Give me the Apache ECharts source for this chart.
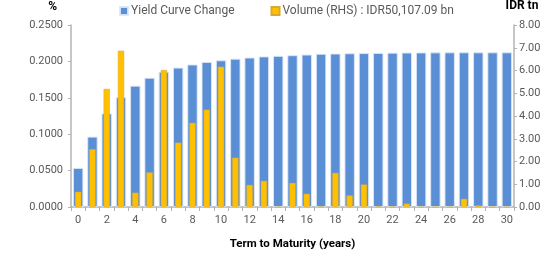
<!DOCTYPE html>
<html>
<head>
<meta charset="utf-8">
<script src="https://cdn.jsdelivr.net/npm/echarts@6/dist/echarts.min.js"></script>
<style>
html,body{margin:0;padding:0;background:#fff;}
#chart{width:557px;height:255px;}
</style>
</head>
<body>
<div id="chart"></div>
<script>
var categories = ['0','1','2','3','4','5','6','7','8','9','10','11','12','13','14','15','16','17','18','19','20','21','22','23','24','25','26','27','28','29','30'];
var yieldChange = [0.0537,0.0967,0.1286,0.1508,0.1667,0.1776,0.1858,0.1915,0.1958,0.1993,0.2015,0.2038,0.2053,0.2069,0.2076,0.2085,0.2094,0.2105,0.2108,0.2112,0.2114,0.2117,0.2120,0.2122,0.2123,0.2124,0.2125,0.2125,0.2125,0.2125,0.2125];
var volume = [0.67,2.54,5.19,6.87,0.63,1.52,6.02,2.83,3.70,4.28,6.17,2.17,0.97,1.15,0,1.06,0.58,0.02,1.50,0.51,0.99,0.02,0.01,0.15,0,0,0,0.36,0.07,0,0];
var leftTicks = {min:0, max:0.25, interval:0.05};
var rightTicks = {min:0, max:8, interval:1};
var seriesNames = ['Yield Curve Change', 'Volume (RHS) : IDR50,107.09 bn'];

var chart = echarts.init(document.getElementById('chart'), null, {renderer:'canvas'});
var labelColor = '#595959';
var axisColor = '#b3b3b3';
var font = 'Roboto, "Liberation Sans", sans-serif';
chart.setOption({
  animation:false,
  textStyle:{fontFamily:font},
  legend:{
    top:0, left:114, itemWidth:8, itemHeight:8, itemGap:36,
    icon:'rect',
    textStyle:{color:labelColor, fontSize:12, fontFamily:font, padding:[0,0,0,-2]},
    data:seriesNames
  },
  grid:{left:71, right:43, top:24, bottom:47, containLabel:false},
  xAxis:[{
    type:'category', data:categories,
    name:'Term to Maturity (years)', nameLocation:'middle', nameGap:31,
    nameTextStyle:{color:'#000', fontWeight:'bold', fontSize:11.5, fontFamily:font},
    axisLine:{lineStyle:{color:axisColor, width:1.5}},
    axisTick:{show:true, interval:0, length:4, lineStyle:{color:axisColor}},
    axisLabel:{interval:1, color:labelColor, fontSize:11, margin:8}
  },{
    type:'category', data:categories, show:false
  }],
  yAxis:[{
    type:'value', min:leftTicks.min, max:leftTicks.max, interval:leftTicks.interval,
    name:'%', nameLocation:'end', nameGap:12,
    nameTextStyle:{color:'#000', fontWeight:'bold', fontSize:12, align:'right', padding:[0,14,0,0]},
    axisLine:{show:true, lineStyle:{color:axisColor, width:1.5}},
    axisTick:{show:true, length:3, lineStyle:{color:axisColor}},
    splitLine:{show:false},
    axisLabel:{color:labelColor, fontSize:11, margin:8, formatter:function(v){return v.toFixed(4);}}
  },{
    type:'value', min:rightTicks.min, max:rightTicks.max, interval:rightTicks.interval,
    name:'IDR tn', nameLocation:'end', nameGap:13,
    nameTextStyle:{color:'#000', fontWeight:'bold', fontSize:12, align:'center', padding:[0,0,0,16]},
    axisLine:{show:true, lineStyle:{color:axisColor, width:1.5}},
    axisTick:{show:true, length:3, lineStyle:{color:axisColor}},
    splitLine:{show:false},
    axisLabel:{color:labelColor, fontSize:11, margin:5, formatter:function(v){return v.toFixed(2);}}
  }],
  series:[{
    name:seriesNames[0], type:'bar', xAxisIndex:0, yAxisIndex:0, data:yieldChange,
    barWidth:'73%',
    itemStyle:{color:'#5a8fd6', borderColor:'rgba(220,232,248,0.9)', borderWidth:1}
  },{
    name:seriesNames[1], type:'bar', xAxisIndex:1, yAxisIndex:1, data:volume,
    barWidth:'44%',
    itemStyle:{color:'#ffc000', borderColor:'#d8a830', borderWidth:0.5}
  }]
});
</script>
</body>
</html>
